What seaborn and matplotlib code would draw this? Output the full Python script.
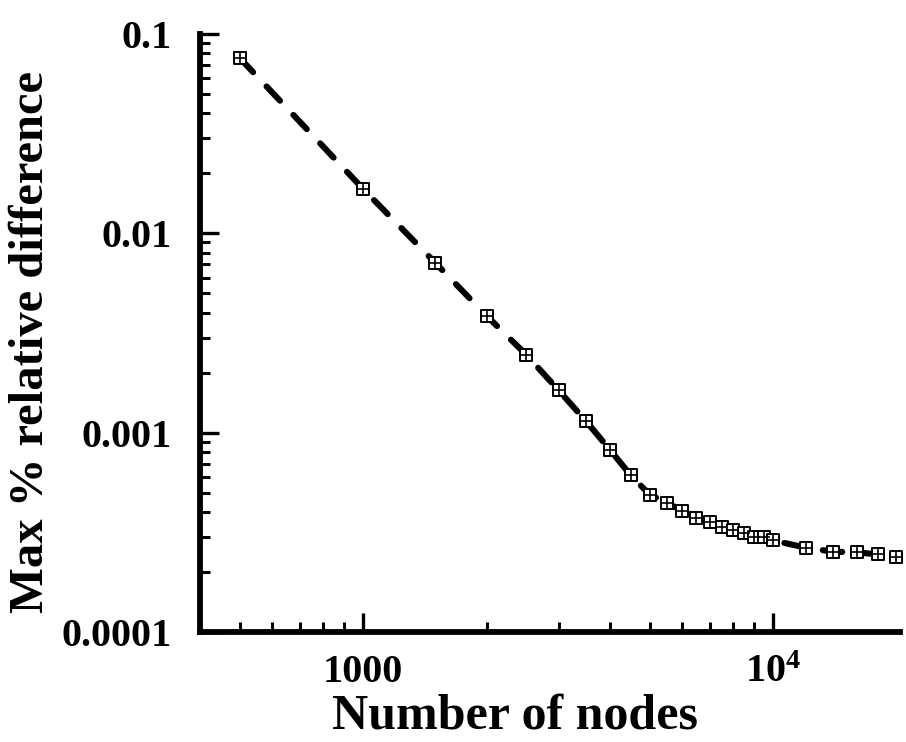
import matplotlib
matplotlib.use("Agg")
import matplotlib.pyplot as plt
import numpy as np
import pandas as pd
import seaborn as sns
from matplotlib.ticker import FixedLocator, FixedFormatter, NullFormatter

# ---- data ----
nodes = [500, 1000, 1500, 2000, 2500, 3000, 3500, 4000, 4500, 5000,
         5500, 6000, 6500, 7000, 7500, 8000, 8500, 9000, 9500, 10000,
         12000, 14000, 16000, 18000, 20000]
max_rel_diff = [0.0758, 0.0167, 0.00711, 0.00386, 0.00246, 0.00163, 0.00114,
                0.00082, 0.00061, 0.000489, 0.000446, 0.000406, 0.000375,
                0.000358, 0.000338, 0.000326, 0.000315, 0.000301, 0.000298,
                0.000288, 0.000265, 0.000253, 0.000251, 0.000245, 0.000239]
x_major_ticks = [1000, 10000]
x_major_labels = ["1000", r"$\mathbf{10^{4}}$"]
x_minor_ticks = [500, 600, 700, 800, 900, 2000, 3000, 4000, 5000, 6000,
                 7000, 8000, 9000]
y_major_ticks = [0.0001, 0.001, 0.01, 0.1]
y_major_labels = ["0.0001", "0.001", "0.01", "0.1"]
x_label = "Number of nodes"
y_label = "Max % relative difference"

df = pd.DataFrame({"nodes": nodes, "diff": max_rel_diff})

sns.set_style("ticks")
plt.rcParams["font.family"] = ["Liberation Serif", "DejaVu Serif"]
plt.rcParams["font.weight"] = "bold"
plt.rcParams["text.color"] = "black"
plt.rcParams["axes.labelcolor"] = "black"
plt.rcParams["mathtext.fontset"] = "custom"
plt.rcParams["mathtext.rm"] = "Liberation Serif:bold"
plt.rcParams["mathtext.bf"] = "Liberation Serif:bold"
plt.rcParams["mathtext.it"] = "Liberation Serif:bold"

fig = plt.figure(figsize=(9.06, 7.42), dpi=100)
ax = fig.add_axes([200 / 906, 110 / 742, 700 / 906, 598 / 742])

sns.lineplot(data=df, x="nodes", y="diff", ax=ax, color="black",
             linewidth=4.4, linestyle=(0, (3.2, 3.2)),
             dash_capstyle="round", zorder=2, legend=False)
sns.scatterplot(data=df, x="nodes", y="diff", ax=ax, marker="s", s=75,
                facecolor="white", edgecolor="black", linewidth=1.4,
                zorder=3, legend=False, clip_on=False)
sns.scatterplot(data=df, x="nodes", y="diff", ax=ax, marker="+", s=75,
                color="black", linewidth=1.2, zorder=4, legend=False,
                clip_on=False)

ax.set_xscale("log")
ax.set_yscale("log")
ax.set_xlim(400, 20400)
ax.set_ylim(0.0001, 0.1)

ax.xaxis.set_major_locator(FixedLocator(x_major_ticks))
ax.xaxis.set_major_formatter(FixedFormatter(x_major_labels))
ax.xaxis.set_minor_locator(FixedLocator(x_minor_ticks))
ax.xaxis.set_minor_formatter(NullFormatter())

y_minor = [m * 10.0 ** e for e in range(-4, -1) for m in range(2, 10)]
ax.yaxis.set_major_locator(FixedLocator(y_major_ticks))
ax.yaxis.set_major_formatter(FixedFormatter(y_major_labels))
ax.yaxis.set_minor_locator(FixedLocator(y_minor))
ax.yaxis.set_minor_formatter(NullFormatter())

for side in ("top", "right"):
    ax.spines[side].set_visible(False)
for side in ("left", "bottom"):
    ax.spines[side].set_linewidth(4.2)
    ax.spines[side].set_color("black")

ax.tick_params(which="major", direction="in", length=14, width=2.4,
               labelsize=29, pad=20, colors="black")
ax.tick_params(which="minor", direction="in", length=7.5, width=2.2,
               colors="black")
ax.tick_params(axis="x", which="major", pad=16)
for lab in ax.get_xticklabels() + ax.get_yticklabels():
    lab.set_fontweight("bold")
    lab.set_color("black")

ax.set_xlabel(x_label, fontsize=36, fontweight="bold", color="black")
ax.set_ylabel(y_label, fontsize=35, fontweight="bold", color="black")
ax.xaxis.set_label_coords(0.45, -0.103)
ax.yaxis.set_label_coords(-0.21, 0.485)

fig.savefig("out.png", dpi=100)
